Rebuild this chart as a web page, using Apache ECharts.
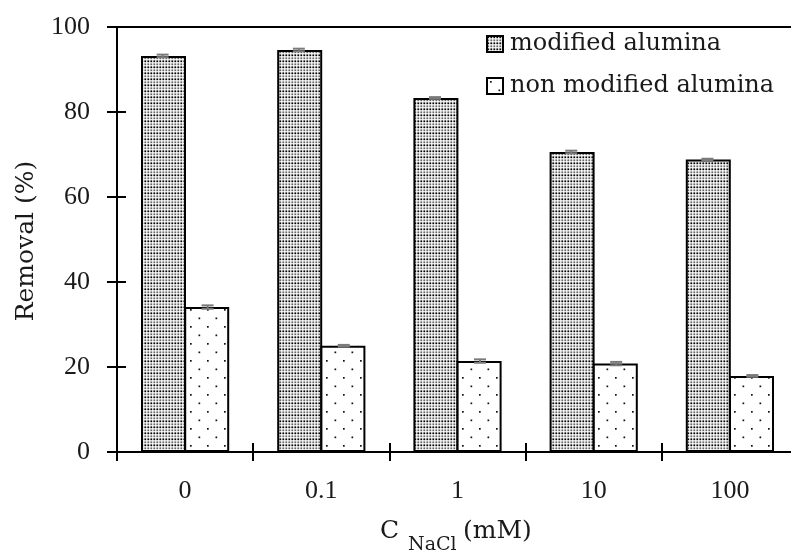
<!DOCTYPE html>
<html>
<head>
<meta charset="utf-8">
<script src="https://cdn.jsdelivr.net/npm/echarts@6/dist/echarts.min.js"></script>
<style>
  html, body { margin: 0; padding: 0; background: #fff; }
  #chart { width: 791px; height: 552px; }
</style>
</head>
<body>
<div id="chart"></div>
<script>
// NaCl concentration categories (mM)
const categories = ['0', '0.1', '1', '10', '100'];
// Removal (%) for each adsorbent
const modifiedRemoval = [93.2, 94.6, 83.3, 70.6, 68.8];
const nonModifiedRemoval = [34.1, 25.0, 21.4, 20.8, 17.9];
// Standard deviations shown as error bars
const modifiedError = [0.3, 0.3, 0.2, 0.3, 0.2];
const nonModifiedError = [0.4, 0.2, 0.4, 0.4, 0.2];
// Y axis ticks
const yTicks = [0, 20, 40, 60, 80, 100];

const seriesNames = ['modified alumina', 'non modified alumina'];

// Dense stipple fill
function densePattern() {
  const c = document.createElement('canvas');
  c.width = 3; c.height = 6;
  const g = c.getContext('2d');
  g.fillStyle = '#fff';
  g.fillRect(0, 0, 3, 6);
  g.fillStyle = '#000';
  g.fillRect(0.4, 0.4, 1.8, 1.8);
  g.fillStyle = '#666';
  g.fillRect(0.4, 3.4, 1.8, 1.8);
  return c;
}
// Sparse staggered dot fill
function sparsePattern() {
  const c = document.createElement('canvas');
  c.width = 17; c.height = 17;
  const g = c.getContext('2d');
  g.fillStyle = '#fff';
  g.fillRect(0, 0, 17, 17);
  g.fillStyle = '#111';
  g.fillRect(3, 3, 1.7, 1.7);
  g.fillRect(11.5, 11.5, 1.7, 1.7);
  return c;
}

const serifDigits = 'Liberation Serif';
const serifText = 'DejaVu Serif';
const ink = '#1a1a1a';

const chart = echarts.init(document.getElementById('chart'), null, { renderer: 'canvas' });

function errorData(values, errs) {
  return values.map((v, i) => [i, v, errs[i]]);
}

function errorRenderer(side) {
  return function (params, api) {
    const i = api.value(0);
    const v = api.value(1);
    const e = api.value(2);
    const band = api.size([1, 0])[0];
    const cx = api.coord([i, v])[0] + side * band * 0.165;
    const yTop = api.coord([i, v + e])[1];
    const yBot = api.coord([i, v - e])[1];
    const half = 6;
    const style = { stroke: '#7a7a7a', lineWidth: 2 };
    return {
      type: 'group',
      children: [
        { type: 'line', shape: { x1: cx, y1: yTop, x2: cx, y2: yBot }, style },
        { type: 'line', shape: { x1: cx - half, y1: yTop, x2: cx + half, y2: yTop }, style },
        { type: 'line', shape: { x1: cx - half, y1: yBot, x2: cx + half, y2: yBot }, style }
      ]
    };
  };
}

const option = {
  animation: false,
  backgroundColor: '#fff',
  grid: { left: 117, top: 27, width: 681, height: 425, containLabel: false, outerBoundsMode: 'none' },
  legend: {
    data: seriesNames,
    orient: 'vertical',
    left: 481,
    top: 27,
    itemWidth: 16,
    itemHeight: 16,
    itemGap: 18,
    icon: 'rect',
    textStyle: {
      fontFamily: serifText,
      fontSize: 24,
      color: ink,
      padding: [0, 0, 0, 2]
    }
  },
  xAxis: [
    {
      type: 'category',
      data: categories,
      position: 'bottom',
      axisLine: { lineStyle: { color: '#000', width: 2 } },
      axisTick: { show: true, length: 9, interval: 0, lineStyle: { color: '#000', width: 2 } },
      axisLabel: { fontFamily: serifDigits, fontSize: 26, color: ink, margin: 26 }
    },
    {
      type: 'category',
      data: categories,
      position: 'bottom',
      axisLine: { show: false },
      axisTick: { show: true, inside: true, length: 9, interval: 0, lineStyle: { color: '#000', width: 2 } },
      axisLabel: { show: false }
    },
    {
      type: 'category',
      data: categories,
      position: 'top',
      axisLine: { lineStyle: { color: '#000', width: 2 } },
      axisTick: { show: false },
      axisLabel: { show: false }
    }
  ],
  yAxis: [
    {
      type: 'value',
      min: yTicks[0],
      max: yTicks[yTicks.length - 1],
      interval: yTicks[1] - yTicks[0],
      axisLine: { show: true, lineStyle: { color: '#000', width: 2 } },
      axisTick: { show: true, length: 10, lineStyle: { color: '#000', width: 2 } },
      splitLine: { show: false },
      axisLabel: { fontFamily: serifDigits, fontSize: 26, color: ink, margin: 27 }
    },
    {
      type: 'value',
      min: yTicks[0],
      max: yTicks[yTicks.length - 1],
      interval: yTicks[1] - yTicks[0],
      position: 'left',
      axisLine: { show: false },
      axisTick: { show: true, inside: true, length: 9, lineStyle: { color: '#000', width: 2 } },
      splitLine: { show: false },
      axisLabel: { show: false }
    }
  ],
  graphic: [
    {
      type: 'text',
      x: 26,
      y: 241,
      rotation: Math.PI / 2,
      style: {
        text: 'Removal (%)',
        fontFamily: serifText,
        fontSize: 25,
        fill: ink,
        align: 'center',
        verticalAlign: 'middle'
      }
    },
    {
      type: 'text',
      x: 380,
      y: 531,
      style: { text: 'C', fontFamily: serifText, fontSize: 25, fill: ink, align: 'left', verticalAlign: 'middle' }
    },
    {
      type: 'text',
      x: 408,
      y: 545,
      style: { text: 'NaCl', fontFamily: serifText, fontSize: 19, fill: ink, align: 'left', verticalAlign: 'middle' }
    },
    {
      type: 'text',
      x: 463,
      y: 531,
      style: { text: '(mM)', fontFamily: serifText, fontSize: 25, fill: ink, align: 'left', verticalAlign: 'middle' }
    }
  ],
  series: [
    {
      name: seriesNames[0],
      type: 'bar',
      data: modifiedRemoval,
      barWidth: 45,
      barGap: '-4%',
      itemStyle: {
        color: { image: densePattern(), repeat: 'repeat' },
        borderColor: '#000',
        borderWidth: 2
      },
      z: 3
    },
    {
      name: seriesNames[1],
      type: 'bar',
      data: nonModifiedRemoval,
      barWidth: 45,
      barGap: '-4%',
      itemStyle: {
        color: { image: sparsePattern(), repeat: 'repeat' },
        borderColor: '#000',
        borderWidth: 2
      },
      z: 3
    },
    {
      type: 'custom',
      renderItem: errorRenderer(-1),
      data: errorData(modifiedRemoval, modifiedError),
      encode: { x: 0, y: 1 },
      z: 5,
      silent: true
    },
    {
      type: 'custom',
      renderItem: errorRenderer(1),
      data: errorData(nonModifiedRemoval, nonModifiedError),
      encode: { x: 0, y: 1 },
      z: 5,
      silent: true
    }
  ]
};

chart.setOption(option);
</script>
</body>
</html>
